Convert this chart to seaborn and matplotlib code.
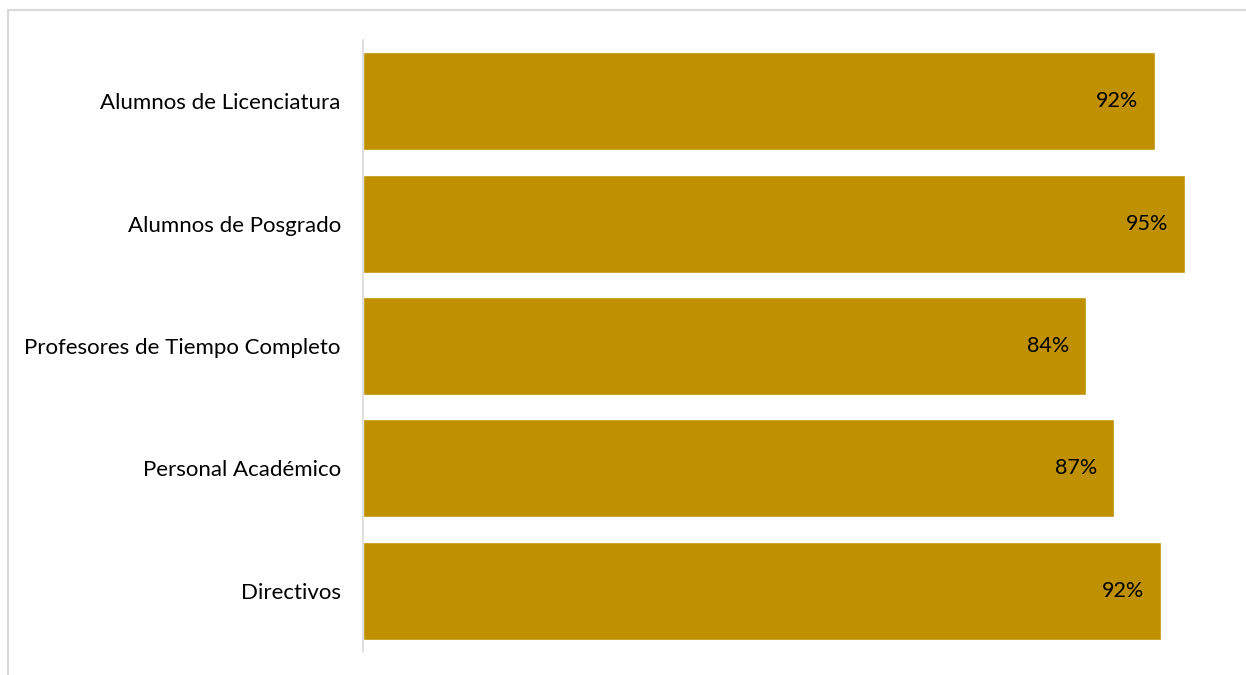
import pandas as pd
import numpy as np
from matplotlib import pyplot as plt
from matplotlib.patches import Rectangle
import seaborn as sns

categorias = ['Alumnos de Licenciatura', 'Alumnos de Posgrado',
              'Profesores de Tiempo Completo', 'Personal Académico', 'Directivos']
valores = [91.8, 95.2, 83.8, 87.0, 92.5]
etiquetas = ['92%', '95%', '84%', '87%', '92%']

sns.set_style('white')
plt.rcParams['font.family'] = ['Lato', 'DejaVu Sans']

data = pd.DataFrame({'categoria': categorias, 'valor': valores})

fig = plt.figure(figsize=(12.46, 6.75), dpi=100)
ax = fig.add_axes([363 / 1246, 23 / 675, 863 / 1246, 612 / 675])

sns.barplot(data=data, x='valor', y='categoria', orient='h', color='#BF9000',
            saturation=1, width=0.8, ax=ax)

ax.set_xlim(0, 100)
ax.set_xlabel('')
ax.set_ylabel('')
ax.set_xticks([])
for s in ['top', 'right', 'bottom']:
    ax.spines[s].set_visible(False)
ax.spines['left'].set_color('#D9D9D9')
ax.spines['left'].set_linewidth(1.2)
ax.tick_params(axis='y', length=0, pad=16, labelsize=16, labelcolor='#000000')

for i, (v, t) in enumerate(zip(valores, etiquetas)):
    ax.annotate(t, (v, i), xytext=(-12, 0), textcoords='offset points',
                ha='right', va='center', fontsize=15.5, color='#000000')

# marco exterior
fig.patches.append(Rectangle((8 / 1246, -0.1), 1.0, 0.1 + 665 / 675,
                             transform=fig.transFigure, fill=False,
                             edgecolor='#D9D9D9', linewidth=1.5))

plt.savefig('out.png', dpi=100)
